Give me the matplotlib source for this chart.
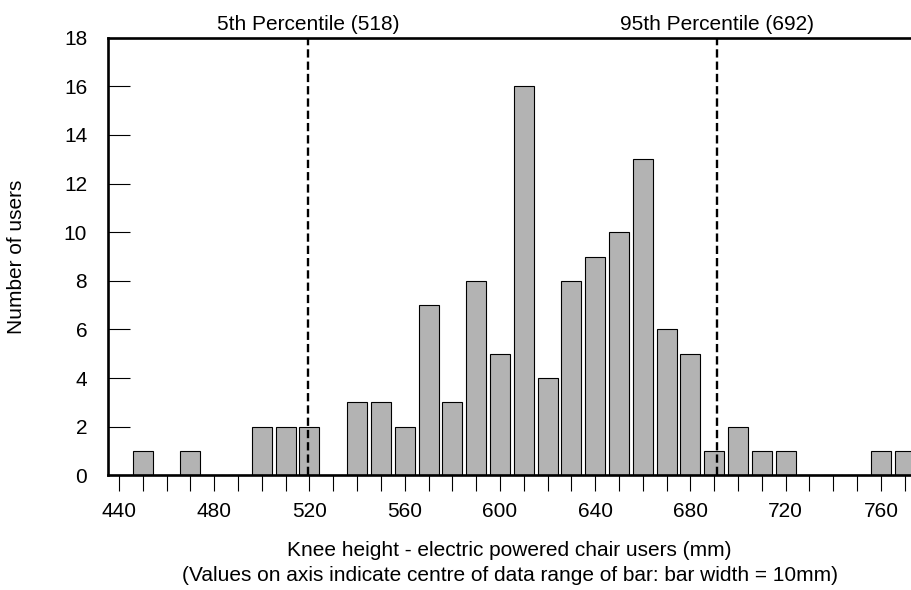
import numpy as np
import matplotlib
matplotlib.use("Agg")
import matplotlib.pyplot as plt
from matplotlib.ticker import MultipleLocator

plt.rcParams['font.family'] = ['Liberation Sans', 'DejaVu Sans']

# bar centres (mm) and number of users in each 10mm range
knee_height = [450, 460, 470, 480, 490, 500, 510, 520, 530, 540, 550,
               560, 570, 580, 590, 600, 610, 620, 630, 640, 650, 660,
               670, 680, 690, 700, 710, 720, 730, 740, 750, 760, 770]
users = [1, 0, 1, 0, 0, 2, 2, 2, 0, 3, 3,
         2, 7, 3, 8, 5, 16, 4, 8, 9, 10, 13,
         6, 5, 1, 2, 1, 1, 0, 0, 0, 1, 1]

# percentile markers: where the dashed line is drawn and its caption
pct_x = [519.3, 691.2]
pct_labels = ['5th Percentile (518)', '95th Percentile (692)']

fig = plt.figure(figsize=(9.11, 5.90), dpi=100)
ax = fig.add_axes([108 / 911, 1 - 475.3 / 590, 1 - 108 / 911, (475.3 - 37.7) / 590])

ax.bar(knee_height, users, width=8.4, color='#b3b3b3', edgecolor='black', linewidth=0.8, zorder=2)

for x, lab in zip(pct_x, pct_labels):
    ax.axvline(x, color='black', lw=1.7, linestyle=(0, (3.5, 1.7)), zorder=3)
    ax.annotate(lab, xy=(x, 18), xycoords='data', xytext=(0, 3), textcoords='offset points',
                ha='center', va='bottom', fontsize=15, annotation_clip=False)

ax.set_xlim(435.38, 772.64)
ax.set_ylim(0, 18)

ax.xaxis.set_major_locator(MultipleLocator(40))
ax.xaxis.set_minor_locator(MultipleLocator(10))
ax.set_yticks(np.arange(0, 19, 2))

ax.tick_params(axis='x', which='both', direction='out', length=11.5, width=0.8,
               labelsize=15, pad=8)
ax.tick_params(axis='y', direction='in', length=16, width=0.8, labelsize=15, pad=15)

for side in ['left', 'bottom', 'top']:
    ax.spines[side].set_linewidth(1.9)
ax.spines['right'].set_visible(False)

ax.set_xlabel('Knee height - electric powered chair users (mm)\n'
              '(Values on axis indicate centre of data range of bar: bar width = 10mm)',
              fontsize=15, labelpad=14, linespacing=1.4)
ax.set_ylabel('Number of users', fontsize=15)
ax.yaxis.set_label_coords(-0.102, 0.5)

fig.savefig('out.png', dpi=100)
